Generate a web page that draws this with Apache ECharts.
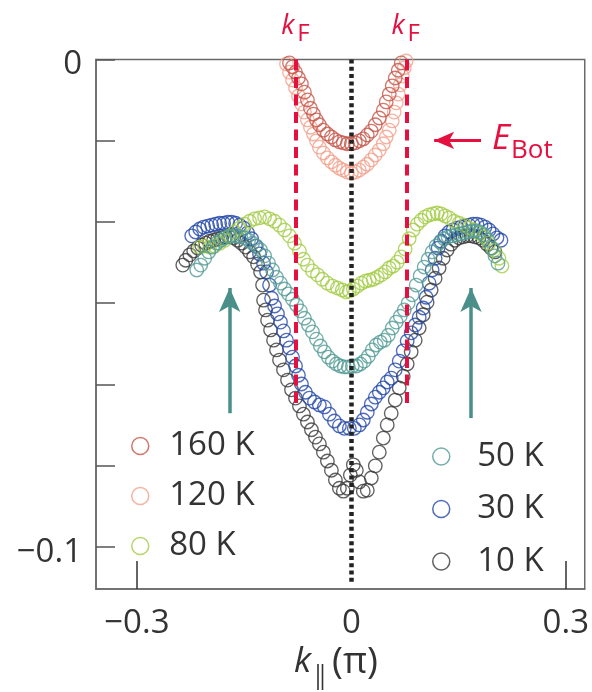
<!DOCTYPE html>
<html>
<head>
<meta charset="utf-8">
<script src="https://cdn.jsdelivr.net/npm/echarts@6/dist/echarts.min.js"></script>
<style>
  html, body { margin: 0; padding: 0; background: #fff; }
  #chart { width: 592px; height: 692px; }
</style>
</head>
<body>
<div id="chart"></div>
<script>
// Dispersion E(k) at several temperatures: [k (π), E (eV)]
const t160K = [
  [-0.0907, 0.0003], [-0.0865, -0.0007], [-0.0823, -0.0015], [-0.0781, -0.0026], [-0.0740, -0.0038],
  [-0.0698, -0.0050], [-0.0656, -0.0067], [-0.0614, -0.0083], [-0.0572, -0.0100], [-0.0530, -0.0112],
  [-0.0488, -0.0124], [-0.0447, -0.0134], [-0.0391, -0.0145], [-0.0335, -0.0153], [-0.0279, -0.0159],
  [-0.0223, -0.0165], [-0.0167, -0.0169], [-0.0112, -0.0171], [-0.0056, -0.0173], [0.0000, -0.0173],
  [0.0056, -0.0171], [0.0112, -0.0167], [0.0167, -0.0163], [0.0223, -0.0155], [0.0279, -0.0147],
  [0.0335, -0.0134], [0.0391, -0.0120], [0.0447, -0.0104], [0.0488, -0.0087], [0.0530, -0.0071],
  [0.0572, -0.0054], [0.0614, -0.0038], [0.0656, -0.0022], [0.0698, -0.0007], [0.0726, 0.0003]
];
const t120K = [
  [-0.0949, 0.0003], [-0.0907, -0.0009], [-0.0865, -0.0026], [-0.0823, -0.0042], [-0.0781, -0.0058],
  [-0.0740, -0.0075], [-0.0698, -0.0091], [-0.0656, -0.0108], [-0.0614, -0.0124], [-0.0572, -0.0139],
  [-0.0530, -0.0153], [-0.0488, -0.0167], [-0.0447, -0.0180], [-0.0391, -0.0192], [-0.0335, -0.0202],
  [-0.0279, -0.0210], [-0.0223, -0.0217], [-0.0167, -0.0223], [-0.0112, -0.0227], [-0.0056, -0.0231],
  [0.0000, -0.0233], [0.0056, -0.0231], [0.0112, -0.0227], [0.0167, -0.0221], [0.0223, -0.0215],
  [0.0279, -0.0206], [0.0335, -0.0196], [0.0391, -0.0186], [0.0447, -0.0173], [0.0488, -0.0159],
  [0.0530, -0.0145], [0.0572, -0.0126], [0.0600, -0.0108], [0.0628, -0.0089], [0.0656, -0.0071],
  [0.0684, -0.0052], [0.0712, -0.0034], [0.0740, -0.0017], [0.0767, -0.0003]
];
const t80K = [
  [-0.2121, -0.0385], [-0.2051, -0.0383], [-0.1981, -0.0385], [-0.1912, -0.0383], [-0.1842, -0.0377],
  [-0.1772, -0.0371], [-0.1702, -0.0362], [-0.1633, -0.0354], [-0.1563, -0.0346], [-0.1493, -0.0338],
  [-0.1423, -0.0332], [-0.1353, -0.0327], [-0.1284, -0.0325], [-0.1214, -0.0323], [-0.1144, -0.0327],
  [-0.1074, -0.0332], [-0.1005, -0.0340], [-0.0935, -0.0350], [-0.0865, -0.0362], [-0.0795, -0.0377],
  [-0.0726, -0.0393], [-0.0670, -0.0410], [-0.0614, -0.0422], [-0.0544, -0.0434], [-0.0474, -0.0442],
  [-0.0405, -0.0451], [-0.0335, -0.0459], [-0.0265, -0.0465], [-0.0195, -0.0469], [-0.0126, -0.0473],
  [-0.0070, -0.0477], [-0.0028, -0.0475], [0.0028, -0.0471], [0.0084, -0.0465], [0.0140, -0.0459],
  [0.0195, -0.0455], [0.0251, -0.0453], [0.0307, -0.0451], [0.0363, -0.0447], [0.0419, -0.0442],
  [0.0474, -0.0436], [0.0530, -0.0428], [0.0586, -0.0424], [0.0642, -0.0416], [0.0698, -0.0405],
  [0.0753, -0.0389], [0.0809, -0.0368], [0.0865, -0.0350], [0.0921, -0.0338], [0.0977, -0.0330],
  [0.1033, -0.0323], [0.1088, -0.0319], [0.1144, -0.0317], [0.1200, -0.0315], [0.1256, -0.0317],
  [0.1312, -0.0321], [0.1367, -0.0325], [0.1437, -0.0332], [0.1507, -0.0336], [0.1577, -0.0340],
  [0.1646, -0.0346], [0.1716, -0.0350], [0.1786, -0.0356], [0.1856, -0.0364], [0.1926, -0.0377],
  [0.1995, -0.0391], [0.2065, -0.0408], [0.2107, -0.0424]
];
const t50K = [
  [-0.2163, -0.0432], [-0.2107, -0.0422], [-0.2051, -0.0408], [-0.1995, -0.0395], [-0.1940, -0.0385],
  [-0.1884, -0.0377], [-0.1828, -0.0371], [-0.1772, -0.0366], [-0.1716, -0.0364], [-0.1660, -0.0362],
  [-0.1605, -0.0362], [-0.1549, -0.0364], [-0.1493, -0.0366], [-0.1437, -0.0371], [-0.1381, -0.0377],
  [-0.1326, -0.0383], [-0.1270, -0.0391], [-0.1214, -0.0403], [-0.1158, -0.0418], [-0.1102, -0.0432],
  [-0.1047, -0.0447], [-0.0991, -0.0459], [-0.0935, -0.0471], [-0.0879, -0.0481], [-0.0823, -0.0492],
  [-0.0767, -0.0504], [-0.0712, -0.0516], [-0.0656, -0.0531], [-0.0600, -0.0545], [-0.0544, -0.0559],
  [-0.0488, -0.0574], [-0.0433, -0.0588], [-0.0377, -0.0600], [-0.0321, -0.0611], [-0.0265, -0.0619],
  [-0.0209, -0.0625], [-0.0153, -0.0629], [-0.0098, -0.0631], [-0.0042, -0.0631], [0.0014, -0.0629],
  [0.0070, -0.0629], [0.0126, -0.0625], [0.0181, -0.0619], [0.0237, -0.0609], [0.0293, -0.0596],
  [0.0349, -0.0586], [0.0405, -0.0580], [0.0460, -0.0576], [0.0516, -0.0566], [0.0572, -0.0551],
  [0.0628, -0.0539], [0.0684, -0.0527], [0.0740, -0.0514], [0.0795, -0.0500], [0.0851, -0.0483],
  [0.0907, -0.0463], [0.0963, -0.0444], [0.1019, -0.0426], [0.1074, -0.0410], [0.1130, -0.0395],
  [0.1186, -0.0383], [0.1242, -0.0375], [0.1298, -0.0368], [0.1353, -0.0364], [0.1409, -0.0362],
  [0.1465, -0.0360], [0.1521, -0.0358], [0.1577, -0.0356], [0.1633, -0.0354], [0.1688, -0.0352],
  [0.1744, -0.0352], [0.1800, -0.0354], [0.1856, -0.0360], [0.1912, -0.0371], [0.1967, -0.0387],
  [0.2009, -0.0403], [0.2051, -0.0418]
];
const t30K = [
  [-0.2233, -0.0362], [-0.2177, -0.0354], [-0.2121, -0.0348], [-0.2065, -0.0344], [-0.2009, -0.0342],
  [-0.1953, -0.0340], [-0.1898, -0.0338], [-0.1842, -0.0336], [-0.1786, -0.0336], [-0.1730, -0.0334],
  [-0.1674, -0.0334], [-0.1619, -0.0336], [-0.1563, -0.0340], [-0.1507, -0.0346], [-0.1451, -0.0356],
  [-0.1395, -0.0368], [-0.1340, -0.0383], [-0.1284, -0.0399], [-0.1228, -0.0418], [-0.1186, -0.0436],
  [-0.1144, -0.0463], [-0.1116, -0.0490], [-0.1074, -0.0506], [-0.1033, -0.0522], [-0.0991, -0.0539],
  [-0.0949, -0.0557], [-0.0907, -0.0576], [-0.0865, -0.0592], [-0.0823, -0.0611], [-0.0781, -0.0629],
  [-0.0740, -0.0648], [-0.0698, -0.0666], [-0.0642, -0.0683], [-0.0586, -0.0695], [-0.0516, -0.0703],
  [-0.0447, -0.0709], [-0.0377, -0.0713], [-0.0307, -0.0728], [-0.0237, -0.0742], [-0.0167, -0.0752],
  [-0.0098, -0.0757], [-0.0028, -0.0757], [0.0042, -0.0757], [0.0112, -0.0750], [0.0167, -0.0740],
  [0.0223, -0.0724], [0.0279, -0.0707], [0.0335, -0.0693], [0.0391, -0.0683], [0.0447, -0.0674],
  [0.0502, -0.0662], [0.0558, -0.0654], [0.0614, -0.0637], [0.0670, -0.0619], [0.0726, -0.0598],
  [0.0781, -0.0578], [0.0837, -0.0561], [0.0893, -0.0545], [0.0949, -0.0529], [0.1005, -0.0510],
  [0.1047, -0.0488], [0.1088, -0.0459], [0.1130, -0.0432], [0.1172, -0.0408], [0.1214, -0.0387],
  [0.1256, -0.0373], [0.1312, -0.0362], [0.1367, -0.0354], [0.1423, -0.0350], [0.1479, -0.0346],
  [0.1535, -0.0344], [0.1591, -0.0342], [0.1646, -0.0340], [0.1702, -0.0338], [0.1758, -0.0338],
  [0.1814, -0.0340], [0.1870, -0.0344], [0.1926, -0.0350], [0.1981, -0.0358], [0.2037, -0.0366],
  [0.2093, -0.0371]
];
const t10K = [
  [-0.2358, -0.0422], [-0.2316, -0.0412], [-0.2260, -0.0401], [-0.2205, -0.0393], [-0.2149, -0.0387],
  [-0.2093, -0.0381], [-0.2037, -0.0377], [-0.1981, -0.0373], [-0.1926, -0.0371], [-0.1870, -0.0368],
  [-0.1814, -0.0366], [-0.1758, -0.0364], [-0.1702, -0.0364], [-0.1646, -0.0366], [-0.1591, -0.0371],
  [-0.1535, -0.0377], [-0.1479, -0.0385], [-0.1423, -0.0395], [-0.1367, -0.0405], [-0.1312, -0.0420],
  [-0.1270, -0.0436], [-0.1242, -0.0463], [-0.1228, -0.0494], [-0.1200, -0.0514], [-0.1172, -0.0535],
  [-0.1130, -0.0555], [-0.1088, -0.0576], [-0.1047, -0.0596], [-0.1005, -0.0617], [-0.0949, -0.0637],
  [-0.0893, -0.0658], [-0.0837, -0.0678], [-0.0781, -0.0695], [-0.0726, -0.0711], [-0.0670, -0.0728],
  [-0.0614, -0.0744], [-0.0558, -0.0760], [-0.0502, -0.0775], [-0.0447, -0.0789], [-0.0391, -0.0806],
  [-0.0335, -0.0824], [-0.0279, -0.0843], [-0.0223, -0.0863], [-0.0167, -0.0880], [-0.0112, -0.0886],
  [-0.0056, -0.0880], [-0.0014, -0.0853], [0.0028, -0.0832], [0.0070, -0.0843], [0.0112, -0.0867],
  [0.0167, -0.0886], [0.0223, -0.0884], [0.0279, -0.0859], [0.0335, -0.0834], [0.0391, -0.0806],
  [0.0447, -0.0777], [0.0502, -0.0750], [0.0558, -0.0726], [0.0614, -0.0699], [0.0670, -0.0674],
  [0.0726, -0.0650], [0.0781, -0.0625], [0.0837, -0.0600], [0.0893, -0.0576], [0.0949, -0.0551],
  [0.1005, -0.0524], [0.1060, -0.0498], [0.1116, -0.0473], [0.1172, -0.0449], [0.1228, -0.0428],
  [0.1284, -0.0408], [0.1340, -0.0391], [0.1395, -0.0379], [0.1451, -0.0371], [0.1507, -0.0366],
  [0.1563, -0.0364], [0.1619, -0.0362], [0.1674, -0.0362], [0.1730, -0.0364], [0.1786, -0.0366],
  [0.1842, -0.0371], [0.1898, -0.0379], [0.1953, -0.0387], [0.2009, -0.0395]
];

// Axis tick and label positions
const xTicks = [-0.3, 0.3];
const xLabels = [-0.3, 0, 0.3];
const yTicks = [0, -0.016667, -0.033333, -0.05, -0.066667, -0.083333, -0.1];
const yLabels = [0, -0.1];

// Annotations: Fermi momenta, band bottom and the gap arrows
const kF = 0.0772;
const kFLineEnd = -0.0713;
const eBot = -0.0166;
const eBotArrowFrom = 0.1814;
const eBotArrowTo = 0.1158;
const gapArrowK = [-0.1702, 0.1674];
const gapArrowFrom = [-0.0726, -0.0736];
const gapArrowTo = -0.0469;
const centerLineEnd = -0.1075;

const FONT = 'Open Sans';
const RED = '#e5103f';
const TEAL = '#4a8f8a';
const INK = '#333';

const temps = [
  { name: '10 K', data: t10K, color: '#3a3a3a' },
  { name: '30 K', data: t30K, color: '#2347a8' },
  { name: '80 K', data: t80K, color: '#a3cc45' },
  { name: '50 K', data: t50K, color: '#529b95' },
  { name: '120 K', data: t120K, color: '#f3a08c' },
  { name: '160 K', data: t160K, color: '#c4564a' }
];

const chart = echarts.init(document.getElementById('chart'), null, { renderer: 'canvas' });

const fmt = v => (v < 0 ? '\u2212' + String(Math.abs(v)) : String(v));

const scatterSeries = temps.map(t => ({
  name: t.name,
  type: 'scatter',
  data: t.data,
  symbol: 'circle',
  symbolSize: 13.5,
  itemStyle: { color: 'transparent', borderColor: t.color, borderWidth: 1.35 },
  emphasis: { disabled: true },
  silent: true,
  z: 2
}));

const lineSeries = (data, lineStyle, symbol, symbolSize, z) => ({
  type: 'scatter',
  data: [],
  silent: true,
  z: z,
  markLine: {
    silent: true,
    animation: false,
    symbol: symbol,
    symbolSize: symbolSize,
    label: { show: false },
    emphasis: { disabled: true },
    lineStyle: lineStyle,
    data: data
  }
});

const option = {
  animation: false,
  backgroundColor: '#fff',
  grid: {
    left: 96, top: 59.5, right: 6, bottom: 103,
    show: true, borderColor: '#6a6a6a', borderWidth: 1.5, backgroundColor: 'transparent'
  },
  xAxis: {
    type: 'value',
    min: -0.3572,
    max: 0.3265,
    axisLine: { show: true, onZero: false, lineStyle: { color: '#6a6a6a', width: 1.5 } },
    splitLine: { show: false },
    axisTick: { show: true, inside: true, length: 28, customValues: xTicks, lineStyle: { color: INK, width: 1.5 } },
    axisLabel: {
      customValues: xLabels, formatter: fmt, margin: 18,
      fontSize: 33, fontFamily: FONT, color: INK
    }
  },
  yAxis: {
    type: 'value',
    min: -0.10868,
    max: 0,
    axisLine: { show: true, onZero: false, lineStyle: { color: '#6a6a6a', width: 1.5 } },
    splitLine: { show: false },
    axisTick: { show: true, inside: true, length: 19, customValues: yTicks, lineStyle: { color: '#555', width: 1.5 } },
    axisLabel: {
      customValues: yLabels, margin: 14,
      formatter: v => '{v|' + fmt(v) + '}',
      rich: { v: { fontSize: 33, fontFamily: FONT, color: INK, padding: [11, 0, 0, 0] } }
    }
  },
  legend: [
    {
      data: ['160 K', '120 K', '80 K'],
      orient: 'vertical', left: 131, top: 429.5, padding: 0,
      itemWidth: 48, itemHeight: 17, itemGap: 17,
      selectedMode: false,
      itemStyle: { borderWidth: 1.5 },
      textStyle: { fontSize: 33, fontFamily: FONT, color: INK }
    },
    {
      data: ['50 K', '30 K', '10 K'],
      orient: 'vertical', left: 432, top: 440, padding: 0,
      itemWidth: 62, itemHeight: 17, itemGap: 19.5,
      selectedMode: false,
      itemStyle: { borderWidth: 1.5 },
      textStyle: { fontSize: 33, fontFamily: FONT, color: INK }
    }
  ],
  series: [
    ...scatterSeries,
    // dotted line at k = 0
    lineSeries(
      [[{ coord: [0, 0] }, { coord: [0, centerLineEnd] }]],
      { color: '#222', width: 4.5, type: [4, 3.3], cap: 'butt' },
      ['none', 'none'], 0, 10
    ),
    // dashed k_F lines
    lineSeries(
      [
        [{ coord: [-kF, 0] }, { coord: [-kF, kFLineEnd] }],
        [{ coord: [kF, 0] }, { coord: [kF, kFLineEnd] }]
      ],
      { color: RED, width: 4, type: [11, 6.5], cap: 'butt' },
      ['none', 'none'], 0, 11
    ),
    // arrow pointing at the band bottom
    lineSeries(
      [[{ coord: [eBotArrowFrom, eBot] }, { coord: [eBotArrowTo, eBot] }]],
      { color: RED, width: 3, type: 'solid' },
      ['none', 'arrow'], [13, 20], 12
    ),
    // gap-opening arrows
    lineSeries(
      [
        [{ coord: [gapArrowK[0], gapArrowFrom[0]] }, { coord: [gapArrowK[0], gapArrowTo] }],
        [{ coord: [gapArrowK[1], gapArrowFrom[1]] }, { coord: [gapArrowK[1], gapArrowTo] }]
      ],
      { color: TEAL, width: 3.5, type: 'solid' },
      ['none', 'arrow'], [16, 24], 12
    )
  ]
};

chart.setOption(option);

// Text annotations placed from data coordinates
const px = (k, e) => chart.convertToPixel({ gridIndex: 0 }, [k, e]);
const kfL = px(-kF, 0);
const kfR = px(kF, 0);
const bot = px(eBotArrowFrom, eBot);

const kFLabel = (cx) => [
  { type: 'text', left: cx - 15, top: 13, style: { text: 'k', fontSize: 27, fontStyle: 'italic', fontFamily: FONT, fill: RED } },
  { type: 'text', left: cx + 1, top: 22, style: { text: 'F', fontSize: 24, fontFamily: FONT, fill: RED } }
];

// axis title: k with a double-bar subscript, then (π)
chart.setOption({
  graphic: [
    ...kFLabel(kfL[0]),
    ...kFLabel(kfR[0]),
    { type: 'text', left: bot[0] + 11, top: bot[1] - 19, style: { text: 'E', fontSize: 35, fontStyle: 'italic', fontFamily: FONT, fill: RED } },
    { type: 'text', left: bot[0] + 30, top: bot[1] - 3, style: { text: 'Bot', fontSize: 26, fontFamily: FONT, fill: RED } },
    { type: 'text', left: 294, top: 645, style: { text: 'k', fontSize: 35, fontStyle: 'italic', fontFamily: FONT, fill: INK } },
    { type: 'line', shape: { x1: 318, y1: 664, x2: 318, y2: 690 }, style: { stroke: INK, lineWidth: 1.6 } },
    { type: 'line', shape: { x1: 322.5, y1: 664, x2: 322.5, y2: 690 }, style: { stroke: INK, lineWidth: 1.6 } },
    { type: 'text', left: 332, top: 644, style: { text: '(\u03c0)', fontSize: 37, fontFamily: FONT, fill: INK } }
  ]
});
</script>
</body>
</html>
